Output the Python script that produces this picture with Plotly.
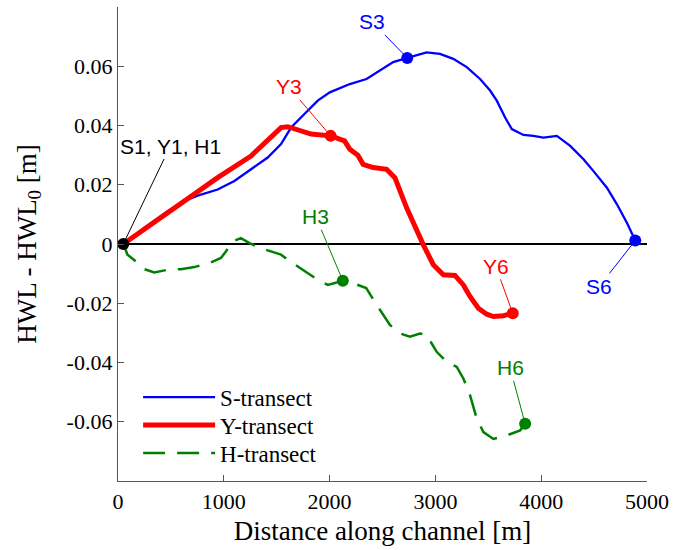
import plotly.graph_objects as go

# ---------------- data ----------------
s_x = [50, 248, 469, 627, 784, 942, 1100, 1257, 1415, 1541, 1636, 1762, 1888,
       2002, 2191, 2349, 2475, 2601, 2734, 2823, 2917, 3043, 3169, 3296, 3422,
       3517, 3580, 3659, 3722, 3832, 3926, 4021, 4148, 4274, 4400, 4494, 4621,
       4716, 4811, 4889]
s_y = [0.0, 0.0054, 0.0111, 0.0145, 0.0167, 0.0184, 0.0213, 0.0252, 0.0292,
       0.0337, 0.0393, 0.0439, 0.0484, 0.0512, 0.0540, 0.0557, 0.0585, 0.0614,
       0.0628, 0.0636, 0.0647, 0.0642, 0.0625, 0.0597, 0.0557, 0.0518, 0.0484,
       0.0427, 0.0388, 0.0368, 0.0365, 0.0359, 0.0365, 0.0331, 0.0286, 0.0246,
       0.0190, 0.0134, 0.0071, 0.0012]

y_x = [50, 310, 627, 942, 1257, 1415, 1541, 1605, 1699, 1825, 2010, 2141, 2191,
       2267, 2317, 2412, 2539, 2617, 2728, 2823, 2885, 2980, 3075, 3185, 3264,
       3327, 3406, 3485, 3548, 3643, 3731]
y_y = [0.0, 0.0066, 0.0145, 0.0224, 0.0297, 0.0348, 0.0393, 0.0396, 0.0384,
       0.0371, 0.0365, 0.0348, 0.0320, 0.0300, 0.0269, 0.0258, 0.0252, 0.0224,
       0.0122, 0.0043, -0.0002, -0.0070, -0.0104, -0.0106, -0.0138, -0.0177,
       -0.0217, -0.0237, -0.0245, -0.0242, -0.0234]

h_x = [50, 90, 169, 248, 343, 469, 595, 721, 878, 973, 1020, 1084, 1162, 1242,
       1352, 1446, 1541, 1604, 1699, 1794, 1888, 1983, 2125, 2236, 2346, 2444,
       2570, 2665, 2759, 2854, 2917, 3012, 3107, 3202, 3264, 3328, 3391, 3454,
       3548, 3675, 3801, 3848]
h_y = [0.0, -0.0036, -0.0059, -0.0085, -0.0096, -0.0087, -0.0085, -0.0078,
       -0.0062, -0.0047, -0.0025, 0.0009, 0.0020, 0.0003, -0.0014, -0.0025,
       -0.0036, -0.0053, -0.0076, -0.0098, -0.0121, -0.0138, -0.0124, -0.0134,
       -0.0149, -0.0205, -0.0273, -0.0302, -0.0313, -0.0302, -0.0307, -0.0364,
       -0.0398, -0.0415, -0.0454, -0.0511, -0.0590, -0.0635, -0.0658, -0.0646,
       -0.0629, -0.0607]

# indices of the labelled stations (1, 3, 6) in each series
s_idx = [0, 18, len(s_x) - 1]
y_idx = [0, 10, len(y_x) - 1]
h_idx = [0, 22, len(h_x) - 1]
s_names = ["S1", "S3", "S6"]
y_names = ["Y1", "Y3", "Y6"]
h_names = ["H1", "H3", "H6"]
series_names = ["S-transect", "Y-transect", "H-transect"]

x_ticks = [0, 1000, 2000, 3000, 4000, 5000]
x_ticktext = ["0", "1000", "2000", "3000", "4000", "5000"]
y_ticks = [-0.06, -0.04, -0.02, 0, 0.02, 0.04, 0.06]
y_ticktext = ["-0.06", "-0.04", "-0.02", "0", "0.02", "0.04", "0.06"]

BLUE = "#0000ff"
RED = "#ff0000"
GREEN = "#008000"
SERIF = "Liberation Serif"
SANS = "Liberation Sans"

fig = go.Figure()
fig.add_trace(go.Scatter(x=s_x, y=s_y, mode="lines", name=series_names[0],
                         legend="legend",
                         line=dict(color=BLUE, width=2.3)))
fig.add_trace(go.Scatter(x=y_x, y=y_y, mode="lines", name=series_names[1],
                         legend="legend2",
                         line=dict(color=RED, width=5)))
fig.add_trace(go.Scatter(x=h_x, y=h_y, mode="lines", name=series_names[2],
                         legend="legend3",
                         line=dict(color=GREEN, width=2.5, dash="22px,12px")))

# station markers
for xs, ys, idx, col in [(s_x, s_y, s_idx, BLUE), (y_x, y_y, y_idx, RED),
                         (h_x, h_y, h_idx, GREEN)]:
    fig.add_trace(go.Scatter(x=[xs[i] for i in idx[1:]], y=[ys[i] for i in idx[1:]],
                             mode="markers", showlegend=False,
                             marker=dict(color=col, size=12)))
fig.add_trace(go.Scatter(x=[s_x[0]], y=[s_y[0]], mode="markers", showlegend=False,
                         marker=dict(color="black", size=12)))

# annotations (offsets in pixels)
ann_font = dict(family=SANS, size=21)
fig.add_annotation(x=s_x[0], y=s_y[0], text=", ".join([s_names[0], y_names[0], h_names[0]]),
                   ax=47, ay=-98, showarrow=True, arrowhead=0, arrowwidth=1,
                   arrowcolor="black", font=dict(color="black", **ann_font))
labels = [
    (s_x, s_y, s_idx[1], s_names[1], BLUE, -35, -36),
    (s_x, s_y, s_idx[2], s_names[2], BLUE, -36, 46),
    (y_x, y_y, y_idx[1], y_names[1], RED, -42, -49),
    (y_x, y_y, y_idx[2], y_names[2], RED, -17, -47),
    (h_x, h_y, h_idx[1], h_names[1], GREEN, -27, -64),
    (h_x, h_y, h_idx[2], h_names[2], GREEN, -15, -56),
]
for xs, ys, i, name, col, ax, ay in labels:
    fig.add_annotation(x=xs[i], y=ys[i], text=name, ax=ax, ay=ay, showarrow=True,
                       arrowhead=0, arrowwidth=1, arrowcolor=col,
                       font=dict(color=col, **ann_font))

axis_common = dict(showgrid=False, showline=True, linecolor="#555555", linewidth=1.3,
                   ticks="inside", ticklen=6, tickcolor="#555555", mirror=False,
                   tickfont=dict(family=SERIF, size=22, color="black"))
fig.update_xaxes(range=[0, 5000], tickvals=x_ticks, ticktext=x_ticktext,
                 zeroline=False,
                 title=dict(text="Distance along channel [m]", standoff=8,
                            font=dict(family=SERIF, size=27, color="black")),
                 **axis_common)
fig.update_yaxes(range=[-0.08, 0.08], tickvals=y_ticks, ticktext=y_ticktext,
                 zeroline=True, zerolinecolor="black", zerolinewidth=2,
                 title=dict(text="HWL - HWL<sub>0</sub> [m]", standoff=22,
                            font=dict(family=SERIF, size=27, color="black")),
                 **axis_common)

legend_common = dict(x=0.038, xanchor="left", yanchor="middle",
                     bgcolor="rgba(0,0,0,0)", borderwidth=0, itemwidth=72,
                     font=dict(family=SERIF, size=23, color="black"))
fig.update_layout(
    width=673, height=550,
    margin=dict(l=118, r=26, t=7, b=69, autoexpand=False),
    paper_bgcolor="white", plot_bgcolor="white",
    font=dict(family=SERIF),
    showlegend=True,
    legend=dict(y=0.177, **legend_common),
    legend2=dict(y=0.118, **legend_common),
    legend3=dict(y=0.059, **legend_common),
)

fig.write_html("out.html")
